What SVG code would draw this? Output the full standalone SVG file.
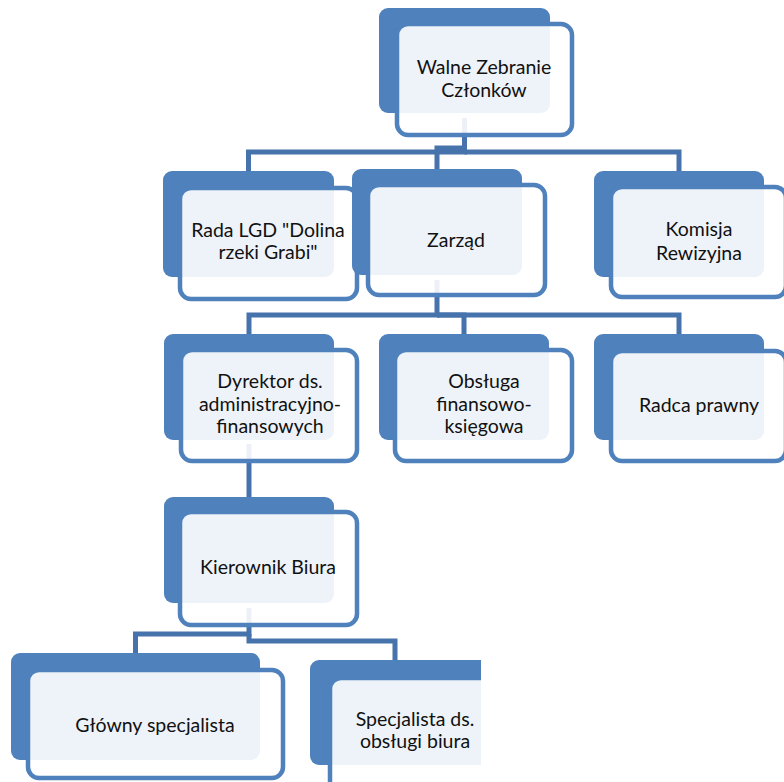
<svg xmlns="http://www.w3.org/2000/svg" width="784" height="782" viewBox="0 0 784 782">
<style>
.bk{fill:#4F81BD}
.fr{fill:#FFFFFF;fill-opacity:0.9;stroke:#4F81BD;stroke-width:4.5}
.cn{fill:none;stroke:#4673AC;stroke-width:5}
.tx{font-family:Lato,"Liberation Sans",sans-serif;font-size:19.5px;fill:#111;text-anchor:middle}
</style>
<defs>
<clipPath id="clipR"><rect x="0" y="0" width="481" height="782"/></clipPath>
</defs>
<rect width="784" height="782" fill="#FFFFFF"/>
<g id="connectors">
<path class="cn" d="M464.5 118 V152 H248.5 V171"/>
<path class="cn" d="M464.5 148 H437 V169"/>
<path class="cn" d="M464.5 152 H679 V171"/>
<path class="cn" d="M437 280 V315 H249 V334"/>
<path class="cn" d="M437 315 H464 V334"/>
<path class="cn" d="M437 315 H679 V334"/>
<path class="cn" d="M249 444 V497"/>
<path class="cn" d="M249 608 V634 H135.5 V653"/>
<path class="cn" d="M249 634 V641 H395 V660"/>
</g>
<g id="walne">
<rect class="bk" x="379" y="8" width="171" height="105" rx="9"/>
<rect class="fr" x="397" y="24" width="175" height="111" rx="11"/>
<text class="tx" x="484" y="74">Walne Zebranie</text>
<text class="tx" x="484" y="97">Członków</text>
</g>
<g id="rada">
<rect class="bk" x="163" y="171" width="171" height="106" rx="9"/>
<rect class="fr" x="180" y="188" width="177" height="111" rx="11"/>
<text class="tx" x="268" y="237">Rada LGD "Dolina</text>
<text class="tx" x="268" y="259">rzeki Grabi"</text>
</g>
<g id="zarzad">
<rect class="bk" x="352" y="169" width="170" height="106" rx="9"/>
<rect class="fr" x="368" y="185" width="177" height="110" rx="11"/>
<text class="tx" x="456" y="247">Zarząd</text>
</g>
<g id="komisja">
<rect class="bk" x="594" y="171" width="170" height="106" rx="9"/>
<rect class="fr" x="611" y="187" width="175" height="110" rx="11"/>
<text class="tx" x="699" y="236">Komisja</text>
<text class="tx" x="699" y="260">Rewizyjna</text>
</g>
<g id="dyrektor">
<rect class="bk" x="164" y="334" width="170" height="106" rx="9"/>
<rect class="fr" x="181" y="350" width="176" height="111" rx="11"/>
<text class="tx" x="270" y="388">Dyrektor ds.</text>
<text class="tx" x="270" y="411">administracyjno-</text>
<text class="tx" x="270" y="433">finansowych</text>
</g>
<g id="obsluga">
<rect class="bk" x="379" y="334" width="170" height="106" rx="9"/>
<rect class="fr" x="395" y="350" width="177" height="111" rx="11"/>
<text class="tx" x="484" y="388">Obsługa</text>
<text class="tx" x="484" y="411">finansowo-</text>
<text class="tx" x="484" y="433">księgowa</text>
</g>
<g id="radca">
<rect class="bk" x="594" y="334" width="170" height="106" rx="9"/>
<rect class="fr" x="611" y="351" width="175" height="110" rx="11"/>
<text class="tx" x="699" y="412">Radca prawny</text>
</g>
<g id="kierownik">
<rect class="bk" x="164" y="497" width="170" height="106" rx="9"/>
<rect class="fr" x="180" y="512" width="177" height="113" rx="11"/>
<text class="tx" x="268" y="574">Kierownik Biura</text>
</g>
<g id="glowny">
<rect class="bk" x="11" y="653" width="249" height="107" rx="9"/>
<rect class="fr" x="28" y="670" width="255" height="108" rx="11"/>
<text class="tx" x="155" y="732">Główny specjalista</text>
</g>
<g id="specjalista" clip-path="url(#clipR)">
<rect class="bk" x="310" y="660" width="180" height="105" rx="9"/>
<rect class="fr" x="330" y="678" width="190" height="120" rx="11"/>
<text class="tx" x="415" y="726">Specjalista ds.</text>
<text class="tx" x="415" y="748">obsługi biura</text>
</g>
</svg>
